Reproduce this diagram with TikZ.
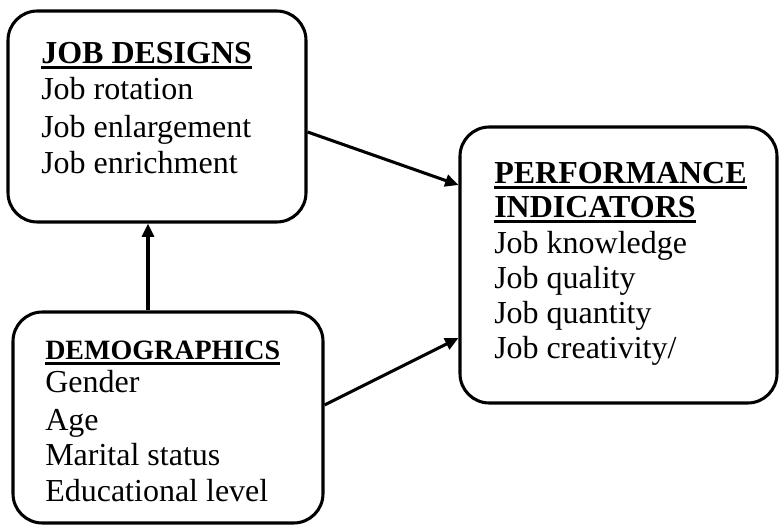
\documentclass[tikz,border=0pt]{standalone}
\usepackage{fontspec}
\setmainfont{Liberation Serif}
\usetikzlibrary{arrows.meta}
\newcommand\ulthick[1]{\setbox0\hbox{#1}\dp0=0pt\vtop{\box0\kern2.2pt\hrule height 2.2pt}}
\tikzset{
  box/.style={draw, line width=2.3pt, rounded corners=22pt, inner sep=0pt},
  txt/.style={anchor=base west, inner sep=0pt, font=\fontsize{24}{28}\selectfont},
  head/.style={txt, font=\fontsize{24}{28}\selectfont\bfseries},
  smallhead/.style={txt, font=\fontsize{21}{25}\selectfont\bfseries},
  link/.style={line width=2.3pt, -{Triangle[length=10pt,width=9pt]}}
}
\begin{document}
\begin{tikzpicture}[x=0.75pt,y=-0.75pt]
\useasboundingbox (0,0) rectangle (779,525);
% boxes
\node[box, minimum width=223.5pt, minimum height=158.25pt] (b1) at (157,116.5) {};
\node[box, minimum width=232.5pt, minimum height=158.25pt] (b2) at (168,417.5) {};
\node[box, minimum width=237.75pt, minimum height=207pt] (b3) at (618.5,265) {};
% job designs
\node[head] (h1) at (41,63) {\ulthick{JOB DESIGNS}};
\node[txt] (t11) at (41,99) {Job rotation};
\node[txt] (t12) at (41,137) {Job enlargement};
\node[txt] (t13) at (41,173) {Job enrichment};
% demographics
\node[smallhead] (h2) at (45,359) {\ulthick{DEMOGRAPHICS}};
\node[txt] (t21) at (45,392) {Gender};
\node[txt] (t22) at (45,430) {Age};
\node[txt] (t23) at (45,465) {Marital status};
\node[txt] (t24) at (45,501) {Educational level};
% performance
\node[head] (h3) at (494,183) {\ulthick{PERFORMANCE}};
\node[head] (h3b) at (494,217) {\ulthick{INDICATORS}};
\node[txt] (t31) at (494,253) {Job knowledge};
\node[txt] (t32) at (494,288) {Job quality};
\node[txt] (t33) at (494,323) {Job quantity};
\node[txt] (t34) at (494,358) {Job creativity/};
% connectors
\draw[link] ([yshift=-11.6pt]b1.east) -- ([yshift=60pt]b3.west);
\draw[link] ([yshift=9.4pt]b2.east) -- ([yshift=-54.75pt]b3.west);
\draw[link] (b2.north -| 148,0) -- (b1.south -| 148,0);
\end{tikzpicture}
\end{document}
